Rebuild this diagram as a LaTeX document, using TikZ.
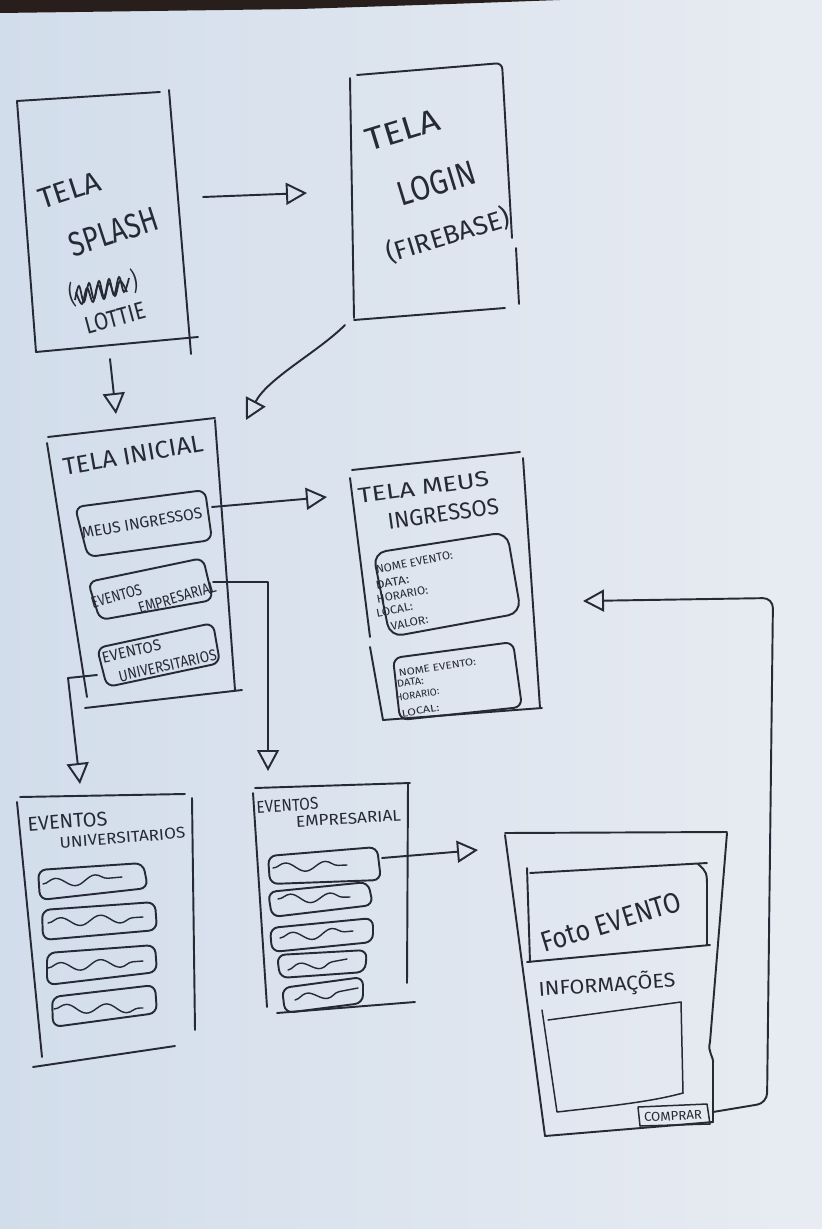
\documentclass[tikz,border=0pt]{standalone}
\usepackage{fontspec}
\setmainfont{Fira Sans}
\usetikzlibrary{arrows.meta,decorations.pathmorphing}
\definecolor{ink}{RGB}{38,42,52}
\definecolor{paperL}{RGB}{210,221,235}
\definecolor{paperR}{RGB}{232,236,242}
\definecolor{tabletop}{RGB}{40,30,28}
\newdimen\pxu \pxu=0.02cm
% hand lettering: text stretched to a given length and cap height (in px units)
\newcommand\hw[3]{\resizebox{#1\pxu}{#2\pxu}{#3}}
% one line of a lettered block, indented by #1 px
\newcommand\hwline[2]{\hbox{\kern#1\pxu #2}}
% vertical gap between lines of a lettered block, in px
\newcommand\lgap[1]{\kern#1\pxu}

\begin{document}
\begin{tikzpicture}[x=0.02cm,y=-0.02cm,
  pen/.style={draw=ink,line width=1.1pt,line cap=round,line join=round},
  thinpen/.style={draw=ink,line width=0.85pt,line cap=round,line join=round},
  card/.style={pen,rounded corners=0.16cm},
  wave/.style={draw=ink,line width=0.8pt,line cap=round,decorate,
    decoration={snake,amplitude=0.09cm,segment length=0.8cm}},
  arr/.style={pen,-{Triangle[open,length=0.42cm,width=0.44cm]}},
  lbl/.style={inner sep=0pt,text=ink,anchor=center},
  block/.style={inner sep=0pt,text=ink,anchor=north west,transform shape}]

% sheet of paper
\useasboundingbox (0,0) rectangle (822,1229);
\shade[left color=paperL,right color=paperR] (0,0) rectangle (822,1229);
\fill[tabletop] (0,0) -- (560,0) -- (450,4) -- (300,9) -- (0,13) -- cycle;

% ---------- Tela splash ----------
\draw[pen] (17,101) -- (160,92);
\draw[pen] (169,90) -- (191,354);
\draw[pen] (17,101) -- (36,352);
\draw[pen] (36,352) -- (198,337);
\begin{scope}[shift={(69,190)},rotate=18]
  \node[block] (splashTitle) at (-32,-10) {\vbox{\offinterlineskip
    \hwline{0}{\hw{64}{20}{TELA}}\lgap{31}
    \hwline{15}{\hw{92}{24}{SPLASH}}}};
\end{scope}
\node[lbl,rotate=12] (splashParens) at (103,288) {\hw{6}{22}{(}\hspace{58\pxu}\hw{6}{22}{)}};
\draw[ink,line width=1pt] plot[smooth,tension=0.6] coordinates
  {(75,300) (79,286) (84,302) (89,283) (94,299) (99,281) (104,297) (109,279) (114,295) (119,277) (124,292) (129,278)};
\draw[ink,line width=1pt] plot[smooth,tension=0.6] coordinates
  {(76,292) (82,304) (87,288) (93,302) (98,285) (104,299) (109,283) (115,296) (120,281) (127,292)};
\node[lbl,rotate=15] (splashLottie) at (115,318) {\hw{62}{17}{LOTTIE}};

% ---------- Tela login ----------
\draw[pen,rounded corners=0.12cm] (357,75) -- (502,63) -- (512,238);
\draw[pen] (350,78) -- (354,318);
\draw[pen] (354,320) -- (505,308);
\draw[pen] (516,248) -- (519,304);
\begin{scope}[shift={(402,130)},rotate=17]
  \node[block] (loginTitle) at (-38,-11) {\vbox{\offinterlineskip
    \hwline{0}{\hw{76}{22}{TELA}}\lgap{37.6}
    \hwline{15}{\hw{80}{24}{LOGIN}}\lgap{28}
    \hwline{-13}{\hw{128}{22}{(FIREBASE)}}}};
\end{scope}

% ---------- Tela inicial ----------
\draw[pen] (48,437) -- (215,418);
\draw[pen] (47,443) -- (87,697);
\draw[pen] (215,420) -- (235,690);
\draw[pen] (85,708) -- (242,690);
\node[lbl,rotate=10] (inicial) at (133,455) {\hw{142}{17}{TELA INICIAL}};
\draw[card] (75,507) -- (205,490) -- (212,540) -- (88,557) -- cycle;
\node[lbl,rotate=10] (btnMeus) at (142,523) {\hw{122}{11}{MEUS INGRESSOS}};
\draw[card] (88,582) -- (203,558) -- (213,600) -- (100,620) -- cycle;
\begin{scope}[shift={(116,596)},rotate=16]
  \node[block] (btnEmp) at (-26,-5.5) {\vbox{\offinterlineskip
    \hwline{0}{\hw{52}{11}{EVENTOS}}\lgap{6.8}
    \hwline{44}{\hw{80}{11}{EMPRESARIAL}}}};
\end{scope}
\draw[card] (97,648) -- (213,623) -- (220,663) -- (107,687) -- cycle;
\begin{scope}[shift={(131,651)},rotate=13]
  \node[block] (btnUni) at (-30,-5.5) {\vbox{\offinterlineskip
    \hwline{0}{\hw{60}{11}{EVENTOS}}\lgap{10.7}
    \hwline{12}{\hw{100}{11}{UNIVERSITARIOS}}}};
\end{scope}

% ---------- Tela meus ingressos ----------
\draw[pen] (352,470) -- (520,452);
\draw[pen] (350,478) -- (370,637);
\draw[pen] (370,647) -- (383,720);
\draw[pen] (523,458) -- (540,708);
\draw[pen] (383,720) -- (542,708);
\begin{scope}[shift={(423,487)},rotate=8]
  \node[block] (meusTitle) at (-66,-7.5) {\vbox{\offinterlineskip
    \hwline{0}{\hw{132}{15}{TELA MEUS}}\lgap{13}
    \hwline{26}{\hw{112}{16}{INGRESSOS}}}};
\end{scope}
\draw[pen,rounded corners=0.26cm] (373,553) -- (507,532) -- (521,613) -- (390,637) -- cycle;
\begin{scope}[shift={(414,562)},rotate=11]
  \node[block] (ticket1) at (-39,-4) {\vbox{\offinterlineskip
    \hwline{0}{\hw{78}{8}{NOME EVENTO:}}\lgap{7.4}
    \hwline{-3.4}{\hw{34}{8}{DATA:}}\lgap{5.7}
    \hwline{-4.9}{\hw{52}{8}{HORARIO:}}\lgap{5.3}
    \hwline{-8.1}{\hw{37}{8}{LOCAL:}}\lgap{7.5}
    \hwline{3.6}{\hw{38}{8}{VALOR:}}}};
\end{scope}
\draw[card] (393,658) -- (513,642) -- (522,707) -- (400,720) -- cycle;
\begin{scope}[shift={(437,667)},rotate=9]
  \node[block] (ticket2) at (-39,-3.5) {\vbox{\offinterlineskip
    \hwline{0}{\hw{78}{7}{NOME EVENTO:}}\lgap{3.6}
    \hwline{-3.5}{\hw{27}{7}{DATA:}}\lgap{6}
    \hwline{-7}{\hw{44}{7}{HORARIO:}}\lgap{9.2}
    \hwline{-3.5}{\hw{38}{7}{LOCAL:}}}};
\end{scope}

% ---------- Eventos universitarios ----------
\draw[pen] (20,797) -- (185,794);
\draw[pen] (17,802) -- (42,1057);
\draw[pen] (192,798) -- (195,1030);
\draw[pen] (33,1067) -- (175,1046);
\begin{scope}[shift={(67,821)},rotate=4.5]
  \node[block] (uniTitle) at (-40,-7) {\vbox{\offinterlineskip
    \hwline{0}{\hw{80}{14}{EVENTOS}}\lgap{7.8}
    \hwline{30.6}{\hw{126}{11}{UNIVERSITARIOS}}}};
\end{scope}
\draw[card] (38,870) -- (143,863) -- (148,888) -- (40,900) -- cycle;
\draw[wave] (43,884) -- (122,877);
\draw[card] (42,910) -- (155,902) -- (157,930) -- (43,940) -- cycle;
\draw[wave] (48,923) -- (143,917);
\draw[card] (47,953) -- (155,945) -- (157,972) -- (47,985) -- cycle;
\draw[wave] (48,968) -- (143,961);
\draw[card] (52,997) -- (155,985) -- (157,1013) -- (53,1027) -- cycle;
\draw[wave] (54,1009) -- (143,1008);

% ---------- Eventos empresarial ----------
\draw[pen] (255,788) -- (410,783);
\draw[pen] (253,793) -- (267,1007);
\draw[pen] (408,783) -- (407,983);
\draw[pen] (277,1013) -- (415,1002);
\begin{scope}[shift={(287,805)},rotate=3.5]
  \node[block] (empTitle) at (-31,-6) {\vbox{\offinterlineskip
    \hwline{0}{\hw{62}{12}{EVENTOS}}\lgap{5.2}
    \hwline{38.6}{\hw{105}{11}{EMPRESARIAL}}}};
\end{scope}
\draw[card] (268,856) -- (377,847) -- (381,880) -- (270,884) -- cycle;
\draw[wave] (273,868) -- (347,865);
\draw[card] (268,892) -- (368,882) -- (373,905) -- (272,917) -- cycle;
\draw[wave] (278,899) -- (350,897);
\draw[card] (270,928) -- (373,918) -- (373,942) -- (272,952) -- cycle;
\draw[wave] (280,938) -- (353,931);
\draw[card] (277,955) -- (367,950) -- (365,972) -- (280,978) -- cycle;
\draw[wave] (288,970) -- (347,959);
\draw[card] (282,988) -- (363,977) -- (363,1003) -- (285,1013) -- cycle;
\draw[wave] (295,1000) -- (358,988);

% ---------- Detalhe do evento ----------
\draw[pen] (505,833) -- (727,832);
\draw[pen] (505,835) -- (545,1136);
\draw[pen] (727,833) -- (710,1042) .. controls (707,1052) and (714,1056) .. (713,1064) -- (713,1122);
\draw[pen] (545,1136) -- (713,1122);
\draw[pen] (530,873) -- (707,863);
\draw[pen] (527,868) -- (530,962);
\draw[pen] (698,864) .. controls (707,872) .. (707,890) -- (707,945);
\draw[pen] (527,962) -- (710,945);
\node[lbl,rotate=17] (foto) at (611,922) {\hw{145}{20}{Foto EVENTO}};
\node[lbl,rotate=4] (info) at (607,985) {\hw{137}{18}{INFORMAÇÕES}};
\draw[thinpen] (548,1020) -- (681,1002) -- (683,1093);
\draw[thinpen] (542,1010) -- (557,1112) .. controls (610,1106) and (650,1102) .. (683,1093);
\draw[thinpen] (638,1107) -- (707,1104) -- (710,1124) -- (640,1126) -- cycle;
\node[lbl,rotate=3] (comprar) at (673,1116) {\hw{58}{9}{COMPRAR}};

% ---------- connectors ----------
\coordinate (splashR) at (203,197);
\coordinate (loginL) at (307,193);
\coordinate (loginB) at (345,325);
\coordinate (inicialTR) at (246,420);
\coordinate (splashB) at (110,359);
\coordinate (inicialT) at (116,414);
\coordinate (btnMeusR) at (212,507);
\coordinate (meusL) at (327,497);
\coordinate (btnEmpR) at (213,582);
\coordinate (empT) at (268,771);
\coordinate (btnUniL) at (97,675);
\coordinate (uniBend) at (68,678);
\coordinate (uniT) at (80,784);
\coordinate (empCardR) at (382,858);
\coordinate (detailL) at (478,850);
\coordinate (comprarR) at (713,1112);
\coordinate (backBend) at (767,1103);
\coordinate (backTop) at (773,598);
\coordinate (meusR) at (583,601);

\draw[arr] (splashR) -- (loginL);
\draw[arr] (loginB) .. controls (318,352) and (268,378) .. (inicialTR);
\draw[arr] (splashB) -- (inicialT);
\draw[arr] (btnMeusR) -- (meusL);
\draw[arr] (btnEmpR) -| (empT);
\draw[arr] (btnUniL) -- (uniBend) -- (uniT);
\draw[arr] (empCardR) -- (detailL);
\draw[arr,rounded corners=0.2cm] (comprarR) -- (backBend) -- (backTop) -- (meusR);

\end{tikzpicture}
\end{document}
